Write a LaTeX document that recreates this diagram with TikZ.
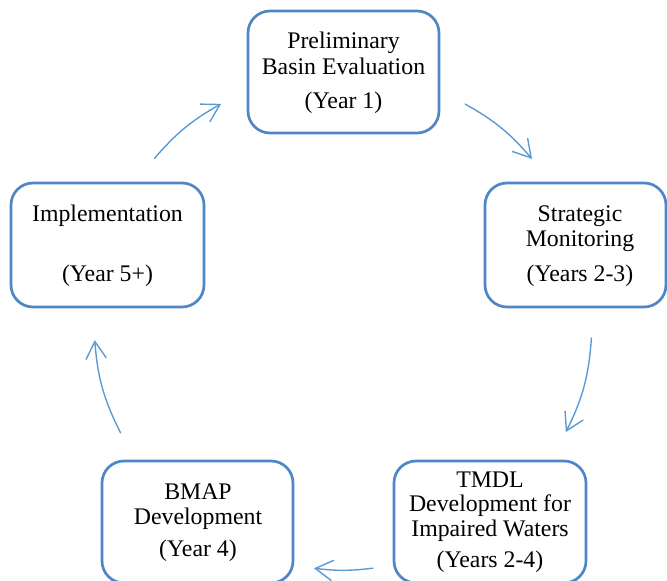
\documentclass[tikz,border=0pt]{standalone}
\usepackage{fontspec}
\setmainfont{Liberation Serif}
\usetikzlibrary{arrows.meta}
\definecolor{boxblue}{HTML}{4F86C6}
\definecolor{arrblue}{HTML}{5B9BD5}
\begin{document}
\begin{tikzpicture}[x=1pt,y=1pt,
  stagebox/.style={draw=boxblue, line width=2.7pt, rounded corners=22pt, fill=white, inner sep=0pt},
  txt/.style={anchor=base, inner sep=0pt, font=\fontsize{23.8}{25}\selectfont},
  cyc/.style={draw=arrblue, line width=1.4pt, line cap=round, -{Straight Barb[length=17pt,width=20pt,line cap=round]}}]
\useasboundingbox (0,0) rectangle (667,581);
% boxes
\node[stagebox, minimum width=191pt, minimum height=122pt] (top) at (343.5,509) {};
\node[stagebox, minimum width=181pt, minimum height=124pt] (right) at (575.5,336) {};
\node[stagebox, minimum width=193pt, minimum height=124pt] (left) at (107.5,336) {};
\node[stagebox, minimum width=192pt, minimum height=122pt] (bright) at (490,59) {};
\node[stagebox, minimum width=191pt, minimum height=122pt] (bleft) at (197.5,59) {};
% texts
\node[txt] (t1) at (343.5,532) {Preliminary};
\node[txt] (t2) at (343.5,506) {Basin Evaluation};
\node[txt] (t3) at (343.5,472) {(Year 1)};
\node[txt] (r1) at (580,359) {Strategic};
\node[txt] (r2) at (580,334) {Monitoring};
\node[txt] (r3) at (580,299) {(Years 2-3)};
\node[txt] (l1) at (107.5,359) {Implementation};
\node[txt] (l3) at (107.5,299) {(Year 5+)};
\node[txt] (br1) at (490,93) {TMDL};
\node[txt] (br2) at (490,69) {Development for};
\node[txt] (br3) at (490,44) {Impaired Waters};
\node[txt] (br4) at (490,13) {(Years 2-4)};
\node[txt] (bl1) at (198,81) {BMAP};
\node[txt] (bl2) at (198,56) {Development};
\node[txt] (bl3) at (198,24) {(Year 4)};
% cycle arrows
\coordinate (c) at (343,260);
\path (c) ++(60.6:249) coordinate (a1s);
\path (c) ++(40.6:249) coordinate (a1e);
\path (c) ++(-3.9:249) coordinate (a2s);
\path (c) ++(-26.5:249) coordinate (a2e);
\path (c) ++(-83.1:249) coordinate (a3s);
\path (c) ++(-96.7:249) coordinate (a3e);
\path (c) ++(206.7:249) coordinate (a4s);
\path (c) ++(184.4:249) coordinate (a4e);
\path (c) ++(139.2:249) coordinate (a5s);
\path (c) ++(119.3:249) coordinate (a5e);
\draw[cyc] (a1s) to[bend left=10] (a1e);
\draw[cyc] (a2s) to[bend left=11.3] (a2e);
\draw[cyc] (a3s) to[bend left=6.8] (a3e);
\draw[cyc] (a4s) to[bend left=11.15] (a4e);
\draw[cyc] (a5s) to[bend left=9.95] (a5e);
\end{tikzpicture}
\end{document}
